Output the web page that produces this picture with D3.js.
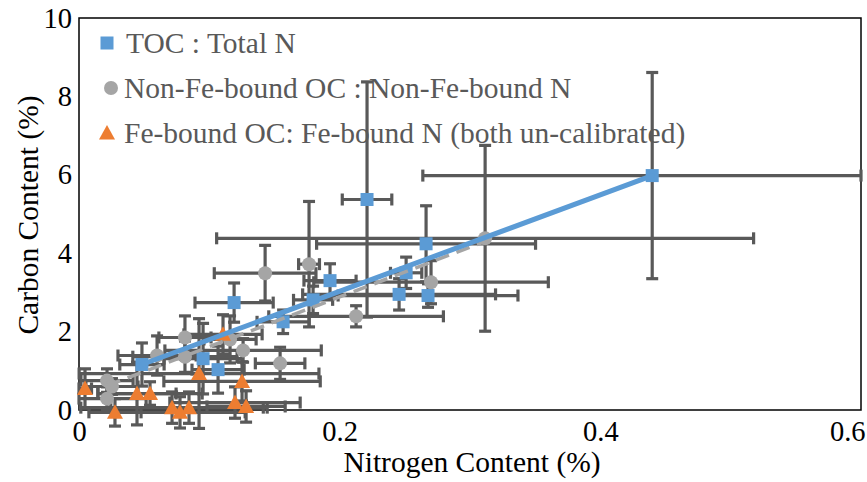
<!DOCTYPE html>
<html>
  <head>
    <meta charset='utf-8'>
    <script src='https://d3js.org/d3.v7.min.js'></script>
    <style>
      body { margin: 0; background: #fff; }
    </style>
  </head>
<body>
<script type='text/javascript'>
'use strict';

// TOC : Total N  (blue squares)
var tocN    = [0.0483, 0.0952, 0.1067, 0.1190, 0.1566, 0.1796, 0.1926, 0.2210, 0.2456, 0.2510, 0.2663, 0.2678, 0.4398];
var tocC    = [1.16, 1.31, 1.03, 2.74, 2.25, 2.81, 3.30, 5.37, 2.95, 3.50, 4.24, 2.92, 5.98];
var tocNErr = [0.017, 0.030, 0.020, 0.030, 0.020, 0.015, 0.020, 0.019, 0.074, 0.012, 0.084, 0.069, 0.176];
var tocCErr = [0.55, 0.90, 0.60, 0.50, 0.30, 0.35, 0.43, 3.00, 0.40, 0.40, 0.97, 0.30, 2.63];

// Non-Fe-bound OC : Non-Fe-bound N  (grey circles)
var nonFeN    = [0.0215, 0.0215, 0.0253, 0.0599, 0.0813, 0.0813, 0.1159, 0.1259, 0.1428, 0.1543, 0.1765, 0.2126, 0.2701, 0.3116];
var nonFeC    = [0.75, 0.29, 0.60, 1.39, 1.85, 1.36, 1.80, 1.52, 3.49, 1.19, 3.72, 2.39, 3.26, 4.38];
var nonFeNErr = [0.020, 0.030, 0.020, 0.030, 0.020, 0.040, 0.020, 0.060, 0.039, 0.019, 0.008, 0.067, 0.090, 0.206];
var nonFeCErr = [0.30, 0.30, 0.20, 0.50, 0.55, 0.40, 0.60, 0.30, 0.71, 0.41, 1.60, 0.27, 0.55, 2.37];

// Fe-bound OC : Fe-bound N  (orange triangles)
var feN    = [0.0046, 0.0276, 0.0445, 0.0545, 0.0714, 0.0775, 0.0844, 0.0921, 0.1105, 0.1197, 0.1251, 0.1282];
var feC    = [0.55, -0.06, 0.42, 0.42, 0.06, -0.06, 0.06, 0.93, 1.93, 0.19, 0.73, 0.09];
var feNErr = [0.005, 0.020, 0.030, 0.040, 0.070, 0.050, 0.060, 0.092, 0.030, 0.050, 0.060, 0.030];
var feCErr = [0.50, 0.35, 0.80, 0.30, 0.40, 0.40, 0.40, 1.40, 0.50, 0.40, 0.50, 0.40];

// linear trendlines (end points)
var tocTrendN = [0.0483, 0.4398];
var tocTrendC = [1.16, 5.98];
var nonFeTrendN = [0.0215, 0.3116];
var nonFeTrendC = [0.62, 4.30];

var xTicks = [0, 0.2, 0.4, 0.6];
var yTicks = [0, 2, 4, 6, 8, 10];

var WIDTH = 867, HEIGHT = 482;
var PLOT_L = 79, PLOT_R = 861, PLOT_T = 18, PLOT_B = 410;

var BLUE = '#5b9bd5', GREY = '#a5a5a5', ORANGE = '#ed7d31', BAR = '#595959';
var FONT = "'Liberation Serif', 'Times New Roman', serif";

var svg = d3.select('body').append('svg')
  .attr('width', WIDTH)
  .attr('height', HEIGHT)
  .attr('font-family', FONT);

var x = d3.scaleLinear().domain([0, 0.6]).range([PLOT_L, PLOT_R]);
var y = d3.scaleLinear().domain([0, 10]).range([PLOT_B, PLOT_T]);

function zip(n, c, ne, ce) {
  return n.map(function (d, i) { return {n: d, c: c[i], ne: ne[i], ce: ce[i]}; });
}
var series = [
  {name: 'TOC : Total N', color: BLUE, shape: 'square', pts: zip(tocN, tocC, tocNErr, tocCErr)},
  {name: 'Non-Fe-bound OC : Non-Fe-bound N', color: GREY, shape: 'circle', pts: zip(nonFeN, nonFeC, nonFeNErr, nonFeCErr)},
  {name: 'Fe-bound OC: Fe-bound N (both un-calibrated)', color: ORANGE, shape: 'triangle', pts: zip(feN, feC, feNErr, feCErr)}
];

// plot area border
svg.append('rect')
  .attr('x', PLOT_L).attr('y', PLOT_T)
  .attr('width', PLOT_R - PLOT_L).attr('height', PLOT_B - PLOT_T)
  .attr('fill', 'none').attr('stroke', '#000').attr('stroke-width', 1.5);

var xMax = x.domain()[1];
var cap = 6;

function drawMarker(g, shape, color, cx, cy) {
  if (shape === 'square') {
    g.append('rect').attr('x', cx - 6.5).attr('y', cy - 6.5)
      .attr('width', 13).attr('height', 13).attr('fill', color);
  } else if (shape === 'circle') {
    g.append('circle').attr('cx', cx).attr('cy', cy).attr('r', 7).attr('fill', color);
  } else {
    g.append('path')
      .attr('d', 'M' + cx + ',' + (cy - 8) + 'L' + (cx + 8) + ',' + (cy + 6.5) + 'L' + (cx - 8) + ',' + (cy + 6.5) + 'Z')
      .attr('fill', color);
  }
}

// error bars, series by series
series.forEach(function (s) {
  var g = svg.append('g').attr('class', 'errbars')
    .attr('stroke', BAR).attr('stroke-width', 3.2).attr('fill', 'none');
  s.pts.forEach(function (p) {
    var x0 = x(Math.max(0, p.n - p.ne)), x1 = x(Math.min(xMax, p.n + p.ne));
    var y0 = y(p.c - p.ce), y1 = y(p.c + p.ce);
    var cy = y(p.c), cx = x(p.n);
    g.append('line').attr('x1', x0).attr('x2', x1).attr('y1', cy).attr('y2', cy);
    g.append('line').attr('x1', x0).attr('x2', x0).attr('y1', cy - cap).attr('y2', cy + cap);
    g.append('line').attr('x1', x1).attr('x2', x1).attr('y1', cy - cap).attr('y2', cy + cap);
    g.append('line').attr('x1', cx).attr('x2', cx).attr('y1', y0).attr('y2', y1);
    g.append('line').attr('x1', cx - cap).attr('x2', cx + cap).attr('y1', y0).attr('y2', y0);
    g.append('line').attr('x1', cx - cap).attr('x2', cx + cap).attr('y1', y1).attr('y2', y1);
  });
});

// markers
series.forEach(function (s) {
  var g = svg.append('g').attr('class', 'markers');
  s.pts.forEach(function (p) { drawMarker(g, s.shape, s.color, x(p.n), y(p.c)); });
});

// trendlines on top
var line = d3.line().x(function (d) { return x(d[0]); }).y(function (d) { return y(d[1]); });
svg.append('path')
  .datum(d3.zip(nonFeTrendN, nonFeTrendC))
  .attr('d', line).attr('fill', 'none')
  .attr('stroke', GREY).attr('stroke-width', 3.5).attr('stroke-dasharray', '14,8');
svg.append('path')
  .datum(d3.zip(tocTrendN, tocTrendC))
  .attr('d', line).attr('fill', 'none')
  .attr('stroke', BLUE).attr('stroke-width', 5).attr('stroke-linecap', 'round');

// axes (labels only, Excel style)
var xAxis = svg.append('g').attr('transform', 'translate(0,' + PLOT_B + ')')
  .call(d3.axisBottom(x).tickValues(xTicks).tickSize(0).tickPadding(11).tickFormat(d3.format('')));
xAxis.select('.domain').remove();
xAxis.attr('font-family', FONT).attr('font-size', 28.5);
xAxis.selectAll('text').attr('fill', '#000');
xAxis.selectAll('.tick').filter(function (d) { return d === 0.6; })
  .select('text').attr('text-anchor', 'end').attr('dx', 4);

var yAxis = svg.append('g').attr('transform', 'translate(' + PLOT_L + ',0)')
  .call(d3.axisLeft(y).tickValues(yTicks).tickSize(0).tickPadding(7));
yAxis.select('.domain').remove();
yAxis.attr('font-family', FONT).attr('font-size', 28.5);
yAxis.selectAll('text').attr('fill', '#000');

svg.append('text')
  .attr('x', 472).attr('y', 472)
  .attr('text-anchor', 'middle').attr('font-size', 29.5).attr('fill', '#000')
  .text('Nitrogen Content (%)');

svg.append('text')
  .attr('transform', 'translate(38,215) rotate(-90)')
  .attr('text-anchor', 'middle').attr('font-size', 29.5).attr('fill', '#000')
  .text('Carbon Content (%)');

// legend
var legendY = [43, 88, 133];
series.forEach(function (s, i) {
  var g = svg.append('g').attr('class', 'legend');
  drawMarker(g, s.shape, s.color, s.shape === 'circle' ? 111 : 107, legendY[i]);
  g.append('text')
    .attr('x', s.shape === 'square' ? 126 : 124).attr('y', legendY[i] + 10)
    .attr('font-size', 29.5).attr('fill', '#595959')
    .text(s.name);
});
</script>
</body>
</html>
